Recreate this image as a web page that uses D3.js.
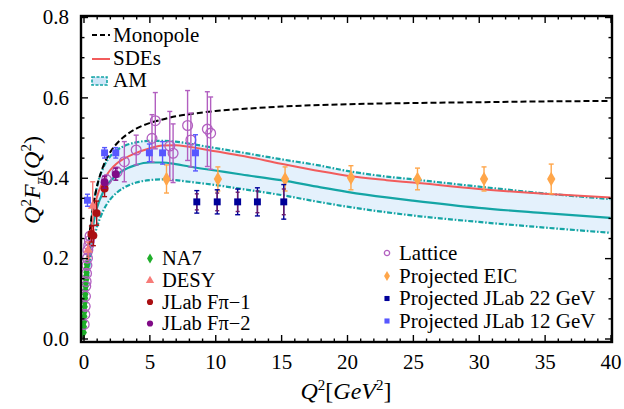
<!DOCTYPE html>
<html>
<head>
<meta charset="utf-8">
<script src="https://cdn.jsdelivr.net/npm/d3@7"></script>
<style>
  body { margin: 0; background: #fff; font-family: 'Liberation Serif', serif; }
  svg { display: block; }
</style>
</head>
<body>
<div id="chart"></div>
<script>
const curveQ2 = [0, 0.2, 0.4, 0.6, 0.8, 1, 1.5, 2, 2.5, 3, 4, 5, 6, 7, 8, 10, 12, 15, 18, 20, 23, 25, 30, 35, 40];
const monopoleVals = [0, 0.15, 0.24, 0.3, 0.343, 0.375, 0.429, 0.462, 0.484, 0.5, 0.522, 0.536, 0.545, 0.553, 0.558, 0.566, 0.571, 0.577, 0.581, 0.583, 0.585, 0.586, 0.588, 0.59, 0.591];
const sdeVals = [0, 0.13, 0.215, 0.28, 0.322, 0.35, 0.392, 0.418, 0.435, 0.446, 0.462, 0.473, 0.48, 0.481, 0.477, 0.466, 0.455, 0.435, 0.416, 0.405, 0.394, 0.388, 0.372, 0.36, 0.351];
const amUpperVals = [0, 0.13, 0.22, 0.29, 0.34, 0.375, 0.425, 0.452, 0.468, 0.478, 0.488, 0.492, 0.492, 0.49, 0.485, 0.474, 0.463, 0.446, 0.43, 0.417, 0.403, 0.396, 0.378, 0.361, 0.347];
const amCentralVals = [0, 0.12, 0.2, 0.255, 0.295, 0.323, 0.365, 0.39, 0.406, 0.418, 0.432, 0.438, 0.438, 0.434, 0.428, 0.418, 0.408, 0.394, 0.376, 0.365, 0.351, 0.343, 0.325, 0.312, 0.3];
const amLowerVals = [0, 0.1, 0.17, 0.215, 0.25, 0.275, 0.318, 0.345, 0.362, 0.374, 0.388, 0.394, 0.396, 0.394, 0.39, 0.382, 0.372, 0.357, 0.339, 0.328, 0.314, 0.306, 0.29, 0.276, 0.263];

// data sets: [Q2, Q2F, error]
const na7 = [[0.015, 0.015, 0], [0.03, 0.029, 0], [0.045, 0.042, 0], [0.06, 0.055, 0], [0.075, 0.067, 0], [0.09, 0.079, 0], [0.105, 0.09, 0], [0.12, 0.1, 0], [0.135, 0.11, 0], [0.15, 0.12, 0], [0.165, 0.13, 0], [0.18, 0.139, 0], [0.195, 0.147, 0], [0.21, 0.156, 0], [0.225, 0.165, 0], [0.24, 0.175, 0], [0.253, 0.185, 0]];
const desy = [[0.35, 0.22, 0.02], [0.7, 0.33, 0.06]];
const jlab1 = [[0.6, 0.26, 0.02], [0.75, 0.256, 0.025], [1.0, 0.312, 0.03], [1.6, 0.373, 0.02]];
const jlab2 = [[1.6, 0.389, 0.015], [2.45, 0.409, 0.015]];
const lattice = [[0.05, 0.035, 0], [0.1, 0.06, 0], [0.13, 0.08, 0], [0.15, 0.105, 0], [0.17, 0.13, 0], [0.2, 0.142, 0], [0.23, 0.162, 0], [0.26, 0.182, 0], [0.3, 0.2, 0], [0.33, 0.22, 0], [0.4, 0.232, 0], [0.45, 0.243, 0], [0.5, 0.255, 0],
  [1.75, 0.395, 0.012], [2.55, 0.414, 0.012], [3.1, 0.44, 0.05], [4.0, 0.469, 0.037], [5.2, 0.498, 0.059], [5.45, 0.542, 0.07], [6.55, 0.479, 0.086], [6.8, 0.461, 0.073], [7.9, 0.53, 0.087], [8.15, 0.494, 0.067], [9.4, 0.521, 0.093], [9.65, 0.511, 0.09]];
const eic = [[6.3, 0.397, 0.035], [10.2, 0.397, 0.03], [15.3, 0.397, 0.03], [20.3, 0.4, 0.03], [25.35, 0.397, 0.027], [30.4, 0.397, 0.03], [35.5, 0.397, 0.037]];
// [Q2, Q2F, outer error, inner error]
const jlab22 = [[8.6, 0.34, 0.028, 0.02], [10.15, 0.34, 0.03, 0.022], [11.7, 0.34, 0.032, 0.024], [13.2, 0.34, 0.035, 0.027], [15.2, 0.34, 0.043, 0.032]];
const jlab12 = [[0.3, 0.344, 0.015], [1.6, 0.462, 0.013], [2.45, 0.462, 0.013], [5.0, 0.462, 0.022], [6.0, 0.462, 0.028], [8.5, 0.462, 0.045]];

const xTicks = [0, 5, 10, 15, 20, 25, 30, 35, 40];
const yTicks = [0, 0.2, 0.4, 0.6, 0.8];
const topLegend = ["Monopole", "SDEs", "AM"];
const leftLegend = ["NA7", "DESY", "JLab F\u03c0\u22121", "JLab F\u03c0\u22122"];
const rightLegend = ["Lattice", "Projected EIC", "Projected JLab 22 GeV", "Projected JLab 12 GeV"];

const width = 624, height = 409;
const frame = { left: 81, right: 612, top: 16, bottom: 342 };
const serif = 'Liberation Serif';

const svg = d3.select('#chart')
  .append('svg')
  .attr('width', width)
  .attr('height', height)
  .attr('font-family', serif);

const x = d3.scaleLinear().domain([0, 40]).range([83.5, 610.5]);
const y = d3.scaleLinear().domain([0, 0.8]).range([338.5, 17]);

const colors = {
  na7: "#1fae2a", desy: "#f77b78", jlab1: "#aa0f12", jlab2: "#800a86",
  lattice: "#b25fc0", eic: "#ffa64a", jlab22: "#000099", jlab22in: "#6a1a6a",
  jlab12: "#5757ff", sde: "#f25c5c", am: "#14a5a5", band: "#e4f1fc"
};

// every text gets its font directly
function label(parent, tx, ty, size, str) {
  return parent.append('text')
    .attr('x', tx).attr('y', ty)
    .attr('font-family', serif)
    .attr('font-size', size)
    .text(str);
}

svg.append('clipPath').attr('id', 'clip')
  .append('rect')
  .attr('x', frame.left).attr('y', frame.top)
  .attr('width', frame.right - frame.left).attr('height', frame.bottom - frame.top);

const plot = svg.append('g').attr('clip-path', 'url(#clip)');

// AM band
const band = curveQ2.map((q, i) => ({ q, lo: amLowerVals[i], hi: amUpperVals[i] }));
plot.append('path')
  .datum(band)
  .attr('fill', colors.band)
  .attr('d', d3.area().curve(d3.curveMonotoneX).x(d => x(d.q)).y0(d => y(d.lo)).y1(d => y(d.hi)));

const line = d3.line().curve(d3.curveMonotoneX).x(d => x(d[0])).y(d => y(d[1]));
const pts = vals => curveQ2.map((q, i) => [q, vals[i]]);

[amUpperVals, amLowerVals].forEach(v => {
  plot.append('path').datum(pts(v))
    .attr('fill', 'none').attr('stroke', colors.am).attr('stroke-width', 2.2)
    .attr('stroke-dasharray', '5,1.8,1.6,1.8')
    .attr('d', line);
});
plot.append('path').datum(pts(amCentralVals))
  .attr('fill', 'none').attr('stroke', colors.am).attr('stroke-width', 2.2).attr('d', line);
plot.append('path').datum(pts(sdeVals))
  .attr('fill', 'none').attr('stroke', colors.sde).attr('stroke-width', 2).attr('d', line);
plot.append('path').datum(pts(monopoleVals))
  .attr('fill', 'none').attr('stroke', '#000').attr('stroke-width', 2)
  .attr('stroke-dasharray', '6,3').attr('d', line);

// error bars
function errorBars(data, color, errIdx = 2, cap = 2.5, sw = 1.4) {
  const g = plot.append('g').attr('stroke', color).attr('stroke-width', sw);
  data.filter(d => d[errIdx] > 0).forEach(d => {
    const cx = x(d[0]), y1 = y(d[1] - d[errIdx]), y2 = y(d[1] + d[errIdx]);
    g.append('line').attr('x1', cx).attr('x2', cx).attr('y1', y1).attr('y2', y2);
    g.append('line').attr('x1', cx - cap).attr('x2', cx + cap).attr('y1', y1).attr('y2', y1);
    g.append('line').attr('x1', cx - cap).attr('x2', cx + cap).attr('y1', y2).attr('y2', y2);
  });
}

function markers(data, type, size, fill, stroke) {
  plot.append('g')
    .selectAll('path')
    .data(data)
    .join('path')
    .attr('transform', d => `translate(${x(d[0])},${y(d[1])})`)
    .attr('d', d3.symbol().type(type).size(size))
    .attr('fill', fill)
    .attr('stroke', stroke || 'none')
    .attr('stroke-width', 1.3);
}

errorBars(na7, colors.na7);
markers(na7, d3.symbolDiamond, 36, colors.na7);

errorBars(lattice, colors.lattice);
markers(lattice, d3.symbolCircle, 75, 'none', colors.lattice);

errorBars(desy, colors.desy);
markers(desy, d3.symbolTriangle, 40, colors.desy);

errorBars(jlab1, colors.jlab1);
markers(jlab1, d3.symbolCircle, 50, colors.jlab1);

errorBars(jlab2, colors.jlab2);
markers(jlab2, d3.symbolCircle, 50, colors.jlab2);

errorBars(eic, colors.eic);
markers(eic, d3.symbolDiamond, 60, colors.eic);

errorBars(jlab22, colors.jlab22, 2);
errorBars(jlab22, colors.jlab22in, 3, 2, 1.4);
markers(jlab22, d3.symbolSquare, 48, colors.jlab22);

errorBars(jlab12, colors.jlab12);
markers(jlab12, d3.symbolSquare, 48, colors.jlab12);

// frame + inward ticks
const axes = svg.append('g');
function addAxis(axisFn, scale, vals, size, tx, ty, labels) {
  const g = axes.append('g')
    .attr('transform', `translate(${tx},${ty})`)
    .call(axisFn(scale).tickValues(vals).tickSizeInner(-size).tickSizeOuter(0)
      .tickPadding(size + 5).tickFormat(labels ? labels : () => ''));
  g.attr('font-family', serif).attr('font-size', 21);
  g.select('.domain').remove();
  g.selectAll('.tick line').attr('stroke', '#000').attr('stroke-width', 1.4);
  g.selectAll('.tick text').attr('fill', '#000')
    .attr('font-family', serif).attr('font-size', 21);
  return g;
}
const xMinor = d3.range(0, 41, 1).filter(v => v % 5 !== 0);
const yMinor = d3.range(0, 0.81, 0.05).filter((v, i) => i % 4 !== 0);

addAxis(d3.axisBottom, x, xTicks, 7, 0, frame.bottom, d => d3.format('d')(d));
addAxis(d3.axisBottom, x, xMinor, 3.5, 0, frame.bottom);
addAxis(d3.axisTop, x, xTicks, 7, 0, frame.top);
addAxis(d3.axisTop, x, xMinor, 3.5, 0, frame.top);
addAxis(d3.axisLeft, y, yTicks, 7, frame.left, 0, d => d3.format('.1f')(d));
addAxis(d3.axisLeft, y, yMinor, 3.5, frame.left, 0);
addAxis(d3.axisRight, y, yTicks, 7, frame.right, 0);
addAxis(d3.axisRight, y, yMinor, 3.5, frame.right, 0);

axes.append('rect')
  .attr('x', frame.left).attr('y', frame.top)
  .attr('width', frame.right - frame.left).attr('height', frame.bottom - frame.top)
  .attr('fill', 'none').attr('stroke', '#000').attr('stroke-width', 2.4);

// axis titles
const xl = label(svg, 346, 399, 24, null).attr('text-anchor', 'middle');
xl.append('tspan').attr('font-style', 'italic').text('Q');
xl.append('tspan').attr('dy', -9).attr('font-size', 15).text('2');
xl.append('tspan').attr('dy', 9).text('[');
xl.append('tspan').attr('font-style', 'italic').text('GeV');
xl.append('tspan').attr('dy', -9).attr('font-size', 15).text('2');
xl.append('tspan').attr('dy', 9).text(']');

const yl = label(svg, 0, 0, 24, null)
  .attr('transform', 'translate(40,180) rotate(-90)')
  .attr('text-anchor', 'middle');
yl.append('tspan').attr('font-style', 'italic').text('Q');
yl.append('tspan').attr('dy', -9).attr('font-size', 15).text('2');
yl.append('tspan').attr('dy', 9).attr('font-style', 'italic').text('F');
yl.append('tspan').attr('dy', 5).attr('font-size', 15).attr('font-style', 'italic').text('\u03c0');
yl.append('tspan').attr('dy', -5).text('(');
yl.append('tspan').attr('font-style', 'italic').text('Q');
yl.append('tspan').attr('dy', -9).attr('font-size', 15).text('2');
yl.append('tspan').attr('dy', 9).text(')');

// legends
const leg = svg.append('g');
const topBase = [42, 64.7, 87.3];
topLegend.forEach((t, i) => label(leg, 113, topBase[i], 21, t));
leg.append('line').attr('x1', 92).attr('x2', 110).attr('y1', 35).attr('y2', 35)
  .attr('stroke', '#000').attr('stroke-width', 2).attr('stroke-dasharray', '5,3');
leg.append('line').attr('x1', 92).attr('x2', 110).attr('y1', 59).attr('y2', 59)
  .attr('stroke', colors.sde).attr('stroke-width', 2);
leg.append('rect').attr('x', 92).attr('y', 77).attr('width', 15).attr('height', 8)
  .attr('fill', '#cfe6f8').attr('stroke', colors.am).attr('stroke-width', 1.6)
  .attr('stroke-dasharray', '3,1.5');

const leftBase = [265, 287, 308.5, 330];
const leftSym = [
  [d3.symbolDiamond, 30, colors.na7, 'none'],
  [d3.symbolTriangle, 30, colors.desy, 'none'],
  [d3.symbolCircle, 30, colors.jlab1, 'none'],
  [d3.symbolCircle, 30, colors.jlab2, 'none']
];
leftLegend.forEach((t, i) => {
  leg.append('path').attr('transform', `translate(150,${leftBase[i] - 6.5})`)
    .attr('d', d3.symbol().type(leftSym[i][0]).size(leftSym[i][1])).attr('fill', leftSym[i][2]);
  label(leg, 162, leftBase[i], 20.5, t);
});

const rightBase = [259.5, 282.5, 305, 327.5];
const rightSym = [
  [d3.symbolCircle, 22, 'none', colors.lattice],
  [d3.symbolDiamond, 30, colors.eic, 'none'],
  [d3.symbolSquare, 26, colors.jlab22, 'none'],
  [d3.symbolSquare, 26, colors.jlab12, 'none']
];
rightLegend.forEach((t, i) => {
  leg.append('path').attr('transform', `translate(387,${rightBase[i] - 6.5})`)
    .attr('d', d3.symbol().type(rightSym[i][0]).size(rightSym[i][1]))
    .attr('fill', rightSym[i][2]).attr('stroke', rightSym[i][3]).attr('stroke-width', 1.3);
  label(leg, 399, rightBase[i], 21, t);
});
</script>
</body>
</html>
